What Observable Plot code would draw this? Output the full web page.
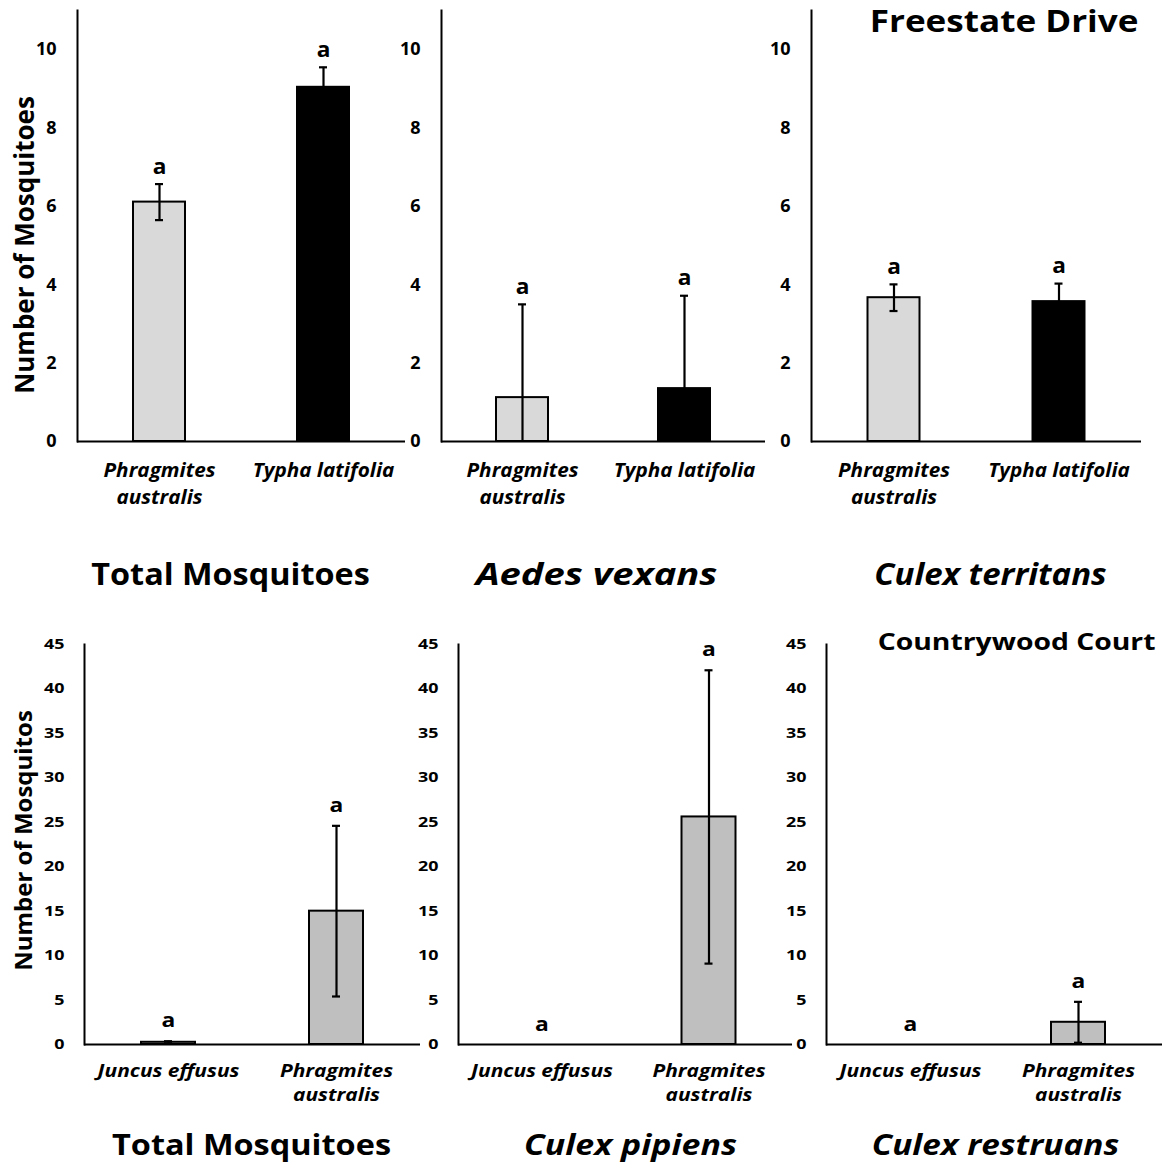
<!DOCTYPE html>
<html>
<head>
<meta charset="utf-8">
<script src="https://cdn.jsdelivr.net/npm/d3@7"></script>
<script src="https://cdn.jsdelivr.net/npm/@observablehq/plot@0.6"></script>
<style>
  body { margin: 0; background: white; }
  #wrap { position: relative; width: 1168px; height: 1162px; background: white; overflow: hidden; }
  #wrap svg { position: absolute; max-width: none; }
</style>
</head>
<body>
<div id="wrap"></div>
<script>
// ---------- data ----------
const topCategories = ["Phragmites australis", "Typha latifolia"];
const topLabels = ["Phragmites\naustralis", "Typha latifolia"];
const topColors = ["#d9d9d9", "#000000"];

const freestateTotalMean = [6.11, 9.04];
const freestateTotalErr = [0.46, 0.51];
const aedesVexansMean = [1.12, 1.35];
const aedesVexansErr = [2.38, 2.37];
const culexTerritansMean = [3.67, 3.57];
const culexTerritansErr = [0.34, 0.46];
const topLetters = ["a", "a"];

const bottomCategories = ["Juncus effusus", "Phragmites australis"];
const bottomLabels = ["Juncus effusus", "Phragmites\naustralis"];
const bottomColors = ["#bfbfbf", "#bfbfbf"];

const countryTotalMean = [0.25, 15.0];
const countryTotalErr = [0.12, 9.6];
const culexPipiensMean = [0, 25.6];
const culexPipiensErr = [0, 16.5];
const culexRestruansMean = [0, 2.5];
const culexRestruansErr = [0, 2.3];
const bottomLetters = ["a", "a"];

const topTicks = [0, 2, 4, 6, 8, 10];
const bottomTicks = [0, 5, 10, 15, 20, 25, 30, 35, 40, 45];

// ---------- helpers ----------
function rows(cats, labels, colors, mean, err, letters) {
  return cats.map((c, i) => ({cat: c, label: labels[i], color: colors[i], mean: mean[i], err: err[i], letter: letters[i]}));
}

// widen glyphs horizontally (the reference lettering is wider than Open Sans)
function stretchTexts(texts, f) {
  if (!f || f === 1) return;
  texts.forEach(t => {
    let tr = t.getAttribute("transform");
    if (!tr) {
      const x = +(t.getAttribute("x") || 0), y = +(t.getAttribute("y") || 0);
      t.removeAttribute("x"); t.removeAttribute("y");
      tr = `translate(${x},${y})`;
    }
    t.setAttribute("transform", tr + ` scale(${f},1)`);
  });
}

function panel(o) {
  const data = rows(o.cats, o.labels, o.colors, o.mean, o.err, o.letters);
  const errData = data.filter(d => d.err > 0);
  const band = (o.width - o.mL - o.mR) / 2;
  const barInset = (band - o.barW) / 2;
  const capInset = (band - 8) / 2;
  const sx = v => "sx-" + Math.round(v * 100);
  const marks = [
    Plot.barY(data, {x: "cat", y: "mean", fill: "color", stroke: "black", strokeWidth: 2,
      insetLeft: barInset, insetRight: barInset}),
    Plot.ruleX(errData, {x: "cat", y1: d => Math.max(0, d.mean - d.err), y2: d => d.mean + d.err, strokeWidth: 2.2, stroke: "black"}),
    Plot.tickY(errData, {x: "cat", y: d => d.mean + d.err, strokeWidth: 2.2, stroke: "black", insetLeft: capInset, insetRight: capInset}),
    Plot.tickY(errData.filter(d => d.mean - d.err > 0), {x: "cat", y: d => d.mean - d.err, strokeWidth: 2.2, stroke: "black", insetLeft: capInset, insetRight: capInset}),
    Plot.text(data, {x: "cat", y: d => d.mean + d.err, text: "letter", dy: o.letterDy, fontSize: o.letterSize, lineAnchor: "middle", className: sx(o.letterSx)}),
    Plot.text(data, {x: "cat", y: 0, text: "label", dy: o.labelDy, fontSize: o.labelSize, fontStyle: "italic", lineAnchor: "top", lineHeight: 1.42, className: sx(o.labelSx)}),
    Plot.ruleY([0], {strokeWidth: 2, stroke: "black"}),
    Plot.frame({anchor: "left", strokeWidth: 2, stroke: "black"}),
    Plot.axisY({ticks: o.ticks, tickSize: 0, tickPadding: o.tickPad, fontSize: o.tickSize, label: null, tickFormat: d => String(d)}),
    Plot.text([o.title], {frameAnchor: "bottom", textAnchor: "middle", dy: o.titleDy, dx: o.titleDx || 0, fontSize: o.titleSize, fontStyle: o.titleItalic ? "italic" : "normal", lineAnchor: "middle", className: sx(o.titleSx)})
  ];
  if (o.yTitle) {
    marks.push(Plot.text([o.yTitle], {frameAnchor: "left", textAnchor: "middle", rotate: -90, dx: o.yTitleDx, dy: o.yTitleDy, fontSize: o.yTitleSize, lineAnchor: "middle"}));
  }
  if (o.site) {
    marks.push(Plot.text([o.site], {frameAnchor: "top-right", textAnchor: "end", dx: o.siteDx, dy: o.siteDy, fontSize: o.siteSize, lineAnchor: "middle", className: sx(o.siteSx)}));
  }
  const svg = Plot.plot({
    width: o.width,
    height: o.height,
    marginLeft: o.mL,
    marginRight: o.mR,
    marginTop: o.mT,
    marginBottom: o.mB,
    x: {domain: o.cats, padding: 0, axis: null},
    y: {domain: o.domain},
    color: {type: "identity"},
    style: {fontFamily: "'Open Sans', sans-serif", fontWeight: "bold", color: "black", background: "transparent", overflow: "visible"},
    marks
  });
  svg.querySelectorAll("g[class*='sx-']").forEach(g => {
    const m = g.getAttribute("class").match(/sx-(\d+)/);
    stretchTexts(g.querySelectorAll("text"), m ? +m[1] / 100 : 1);
  });
  stretchTexts(svg.querySelectorAll("g[aria-label='y-axis tick label'] text"), o.tickSx);
  svg.style.left = o.left + "px";
  svg.style.top = o.top + "px";
  document.getElementById("wrap").appendChild(svg);
}

const topCommon = {
  cats: topCategories, labels: topLabels, colors: topColors, letters: topLetters,
  domain: [0, 11], ticks: topTicks, top: 0, height: 610, mT: 10, mB: 169,
  barW: 52, tickPad: 21, tickSize: 18, tickSx: 1, letterDy: -17, letterSize: 21, letterSx: 1.08,
  labelDy: 16, labelSize: 19, labelSx: 1.09, titleDy: 134, titleSize: 30
};
const bottomCommon = {
  cats: bottomCategories, labels: bottomLabels, colors: bottomColors, letters: bottomLetters,
  domain: [0, 45], ticks: bottomTicks, top: 620, height: 542, mT: 24, mB: 118,
  barW: 54, tickPad: 20, tickSize: 14, tickSx: 1.28, letterDy: -20, letterSize: 19, letterSx: 1.2,
  labelDy: 15, labelSize: 17, labelSx: 1.23, titleDy: 101, titleSize: 29
};

// Top row: Freestate Drive
panel({...topCommon, left: 0, width: 410, mL: 77, mR: 5, mean: freestateTotalMean, err: freestateTotalErr,
  title: "Total Mosquitoes", titleDx: -11, titleSx: 1.08,
  yTitle: "Number of Mosquitoes", yTitleDx: -52, yTitleDy: 19, yTitleSize: 26});
panel({...topCommon, left: 381, width: 389, mL: 60, mR: 5, mean: aedesVexansMean, err: aedesVexansErr,
  title: "Aedes vexans", titleItalic: true, titleDx: -7, titleSize: 31, titleSx: 1.23});
panel({...topCommon, left: 751, width: 417, mL: 60, mR: 27, mean: culexTerritansMean, err: culexTerritansErr,
  title: "Culex territans", titleItalic: true, titleDx: 14, titleSx: 1.1,
  site: "Freestate Drive", siteDx: -3, siteDy: 12, siteSize: 30, siteSx: 1.17});

// Bottom row: Countrywood Court
panel({...bottomCommon, left: 0, width: 425, mL: 84, mR: 5, mean: countryTotalMean, err: countryTotalErr,
  title: "Total Mosquitoes", titleDx: -1, titleSx: 1.12,
  yTitle: "Number of Mosquitos", yTitleDx: -60, yTitleDy: -4, yTitleSize: 24});
panel({...bottomCommon, left: 398, width: 399, mL: 60, mR: 5, mean: culexPipiensMean, err: culexPipiensErr,
  title: "Culex pipiens", titleItalic: true, titleDx: 5, titleSx: 1.17});
panel({...bottomCommon, left: 766, width: 402, mL: 60, mR: 6, mean: culexRestruansMean, err: culexRestruansErr,
  title: "Culex restruans", titleItalic: true, titleDx: 1, titleSx: 1.15,
  site: "Countrywood Court", siteDx: -7, siteDy: -2, siteSize: 24, siteSx: 1.18});
</script>
</body>
</html>
